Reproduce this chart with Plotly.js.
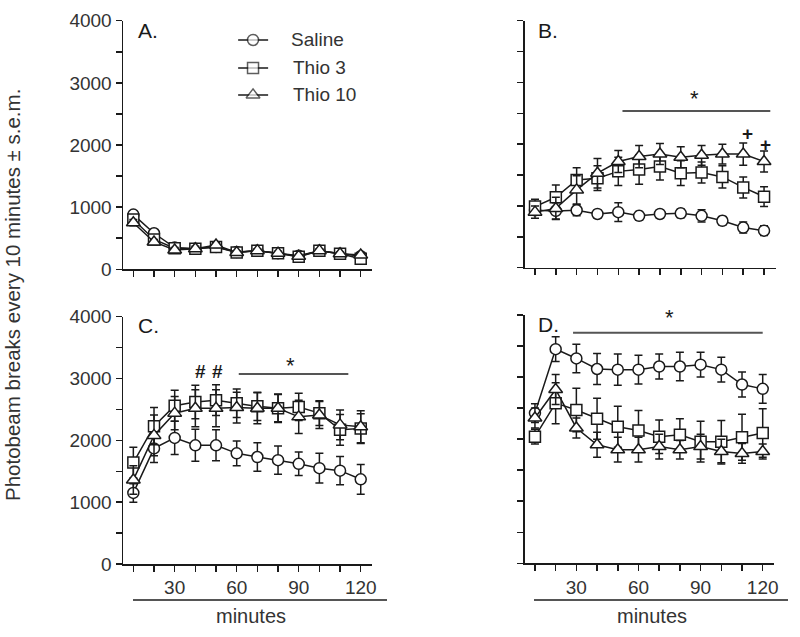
<!DOCTYPE html>
<html>
<head>
<meta charset="utf-8">
<script src="https://cdn.plot.ly/plotly-3.0.1.min.js"></script>
<style>html,body{margin:0;padding:0;background:#fff;}#chart{width:800px;height:637px;}</style>
</head>
<body>
<div id="chart"></div>
<script>
// ---------- data ----------
const minutes = [10, 20, 30, 40, 50, 60, 70, 80, 90, 100, 110, 120];
const seriesNames = ["Saline", "Thio 3", "Thio 10"];
const xTickVals = [10, 20, 30, 40, 50, 60, 70, 80, 90, 100, 110, 120];
const xTickText = ["", "", "30", "", "", "60", "", "", "90", "", "", "120"];
const yTickVals = [0, 500, 1000, 1500, 2000, 2500, 3000, 3500, 4000];
const yTickText = ["0", "", "1000", "", "2000", "", "3000", "", "4000"];

// Panel A
const A_saline = [880, 580, 350, 330, 360, 280, 300, 260, 220, 300, 250, 210];
const A_thio3  = [800, 480, 340, 330, 360, 270, 300, 260, 200, 300, 250, 170];
const A_thio10 = [750, 440, 310, 330, 390, 270, 300, 260, 210, 300, 250, 230];
const A_saline_err = [50, 50, 40, 40, 40, 30, 30, 30, 30, 30, 30, 30];
const A_thio3_err  = [50, 40, 40, 40, 40, 30, 30, 30, 30, 30, 30, 30];
const A_thio10_err = [50, 40, 40, 40, 40, 30, 30, 30, 30, 30, 30, 30];

// Panel B
const B_saline = [930, 920, 930, 870, 900, 840, 870, 880, 840, 760, 650, 600];
const B_thio3  = [990, 1140, 1420, 1450, 1560, 1590, 1640, 1530, 1540, 1470, 1300, 1150];
const B_thio10 = [900, 960, 1260, 1530, 1720, 1800, 1840, 1790, 1820, 1840, 1840, 1720];
const B_saline_err = [80, 130, 90, 60, 150, 70, 70, 70, 100, 70, 90, 80];
const B_thio3_err  = [120, 200, 200, 200, 230, 240, 220, 200, 170, 180, 170, 160];
const B_thio10_err = [100, 180, 230, 240, 180, 180, 170, 170, 160, 160, 180, 170];

// Panel C
const C_saline = [1150, 1870, 2040, 1920, 1920, 1790, 1730, 1680, 1620, 1550, 1510, 1370];
const C_thio3  = [1640, 2230, 2560, 2620, 2650, 2600, 2550, 2520, 2540, 2440, 2170, 2190];
const C_thio10 = [1360, 2080, 2440, 2520, 2520, 2530, 2520, 2520, 2380, 2410, 2250, 2220];
const C_saline_err = [150, 230, 270, 260, 250, 200, 230, 230, 190, 240, 230, 240];
const C_thio3_err  = [250, 300, 250, 270, 250, 230, 230, 220, 220, 200, 250, 240];
const C_thio10_err = [230, 330, 270, 300, 300, 250, 250, 230, 270, 220, 240, 260];

// Panel D
const D_saline = [2420, 3450, 3300, 3130, 3120, 3120, 3170, 3170, 3200, 3120, 2880, 2810];
const D_thio3  = [2040, 2580, 2470, 2330, 2200, 2140, 2040, 2070, 1960, 1960, 2030, 2100];
const D_thio10 = [2340, 2800, 2180, 1910, 1830, 1830, 1880, 1830, 1880, 1800, 1770, 1800];
const D_saline_err = [150, 200, 230, 250, 250, 230, 200, 230, 200, 200, 200, 230];
const D_thio3_err  = [120, 330, 350, 330, 330, 320, 270, 260, 330, 340, 370, 390];
const D_thio10_err = [160, 240, 160, 200, 200, 200, 200, 150, 200, 200, 160, 120];

// ---------- helpers ----------
const W = 800, H = 637;
const px = x => x / W;
const py = y => 1 - y / H;
const FONT = "Liberation Sans, Arial, sans-serif";
const INK = "#1a1a1a";
const TXT = "#333";
const symbols = ["circle", "square", "triangle-up"];

function series(xa, ya, vals, errs, i) {
  return {
    type: "scatter", mode: "lines+markers",
    x: minutes, y: vals, xaxis: xa, yaxis: ya,
    name: seriesNames[i], showlegend: false,
    line: {color: INK, width: 1.5},
    marker: {symbol: symbols[i], size: i === 2 ? 12 : 11, color: "#fff", line: {color: INK, width: 1.5}},
    error_y: {type: "data", array: errs, visible: true, color: INK, thickness: 1.5, width: 4},
    cliponaxis: false
  };
}

const panels = [
  ["x", "y", [A_saline, A_thio3, A_thio10], [A_saline_err, A_thio3_err, A_thio10_err]],
  ["x2", "y2", [B_saline, B_thio3, B_thio10], [B_saline_err, B_thio3_err, B_thio10_err]],
  ["x3", "y3", [C_saline, C_thio3, C_thio10], [C_saline_err, C_thio3_err, C_thio10_err]],
  ["x4", "y4", [D_saline, D_thio3, D_thio10], [D_saline_err, D_thio3_err, D_thio10_err]]
];

const traces = [];
panels.forEach(p => {
  for (let i = 0; i < 3; i++) traces.push(series(p[0], p[1], p[2][i], p[3][i], i));
});

// manual legend in panel A (positions in panel A data units)
const legY = [3690, 3240, 2806];
const legX = [60.7, 67.9, 75.2];
for (let i = 0; i < 3; i++) {
  traces.push({
    type: "scatter", mode: "lines+markers", xaxis: "x", yaxis: "y",
    x: legX, y: [legY[i], legY[i], legY[i]], showlegend: false, hoverinfo: "skip",
    line: {color: INK, width: 1.5},
    marker: {symbol: symbols[i], size: [0, i === 2 ? 12 : 11, 0], color: "#fff", line: {color: INK, width: [0, 1.5, 0]}},
    cliponaxis: false
  });
}

function xaxis(l, r, labels) {
  return {
    domain: [px(l), px(r)], range: [5, 125.5],
    showline: true, linecolor: INK, linewidth: 1.5, showgrid: false, zeroline: false,
    ticks: "outside", ticklen: 6, tickwidth: 1.5, tickcolor: INK,
    tickmode: "array", tickvals: xTickVals, ticktext: labels ? xTickText : xTickVals.map(() => ""),
    tickfont: {family: FONT, size: 19, color: TXT}, fixedrange: true
  };
}
function yaxis(top, bottom, labels) {
  return {
    domain: [py(bottom), py(top)], range: [0, 4000],
    showline: true, linecolor: INK, linewidth: 1.5, showgrid: false, zeroline: false,
    ticks: "outside", ticklen: 6, tickwidth: 1.5, tickcolor: INK,
    tickmode: "array", tickvals: yTickVals, ticktext: labels ? yTickText : yTickVals.map(() => ""),
    tickfont: {family: FONT, size: 19, color: TXT}, fixedrange: true
  };
}

const layout = {
  width: W, height: H,
  margin: {l: 0, r: 0, t: 0, b: 0},
  paper_bgcolor: "#fff", plot_bgcolor: "rgba(0,0,0,0)",
  showlegend: false,
  font: {family: FONT, color: INK},
  xaxis:  Object.assign(xaxis(123.0, 372.1, false), {anchor: "y"}),
  yaxis:  Object.assign(yaxis(20.7, 269.3, true), {anchor: "x"}),
  xaxis2: Object.assign(xaxis(524.6, 775.5, false), {anchor: "y2"}),
  yaxis2: Object.assign(yaxis(20.7, 267.7, false), {anchor: "x2"}),
  xaxis3: Object.assign(xaxis(123.0, 372.1, true), {anchor: "y3"}),
  yaxis3: Object.assign(yaxis(316.7, 564.0, true), {anchor: "x3"}),
  xaxis4: Object.assign(xaxis(524.6, 774.1, true), {anchor: "y4"}),
  yaxis4: Object.assign(yaxis(315.0, 563.3, false), {anchor: "x4"}),
  shapes: [
    // "minutes" underlines
    {type: "line", xref: "paper", yref: "paper", x0: px(133), x1: px(387), y0: py(600), y1: py(600), line: {color: "#555", width: 2}},
    {type: "line", xref: "paper", yref: "paper", x0: px(534), x1: px(788), y0: py(600), y1: py(600), line: {color: "#555", width: 2}},
    // significance bars
    {type: "line", xref: "x2", yref: "y2", x0: 52, x1: 123, y0: 2538, y1: 2538, line: {color: "#555", width: 2}},
    {type: "line", xref: "x3", yref: "y3", x0: 61, x1: 114, y0: 3074, y1: 3074, line: {color: "#555", width: 2}},
    {type: "line", xref: "x4", yref: "y4", x0: 28.4, x1: 120, y0: 3715, y1: 3715, line: {color: "#555", width: 2}}
  ],
  annotations: [
    // panel letters
    {xref: "paper", yref: "paper", x: px(136), y: py(31), xanchor: "left", yanchor: "middle", text: "A.", showarrow: false, font: {size: 21, color: INK}},
    {xref: "paper", yref: "paper", x: px(536), y: py(31), xanchor: "left", yanchor: "middle", text: "B.", showarrow: false, font: {size: 21, color: INK}},
    {xref: "paper", yref: "paper", x: px(136), y: py(325), xanchor: "left", yanchor: "middle", text: "C.", showarrow: false, font: {size: 21, color: INK}},
    {xref: "paper", yref: "paper", x: px(536), y: py(324), xanchor: "left", yanchor: "middle", text: "D.", showarrow: false, font: {size: 21, color: INK}},
    // legend labels
    {xref: "x", yref: "y", x: 85.3, y: legY[0], xanchor: "left", yanchor: "middle", text: seriesNames[0], showarrow: false, font: {size: 19, color: TXT}},
    {xref: "x", yref: "y", x: 86.5, y: legY[1], xanchor: "left", yanchor: "middle", text: seriesNames[1], showarrow: false, font: {size: 19, color: TXT}},
    {xref: "x", yref: "y", x: 86.5, y: legY[2], xanchor: "left", yanchor: "middle", text: seriesNames[2], showarrow: false, font: {size: 19, color: TXT}},
    // y title
    {xref: "paper", yref: "paper", x: px(12), y: py(295), xanchor: "center", yanchor: "middle", textangle: -90,
     text: "Photobeam breaks every 10 minutes \u00b1 s.e.m.", showarrow: false, font: {size: 20.5, color: TXT}},
    // x titles
    {xref: "paper", yref: "paper", x: px(251), y: py(616), xanchor: "center", yanchor: "middle", text: "minutes", showarrow: false, font: {size: 20, color: TXT}},
    {xref: "paper", yref: "paper", x: px(652), y: py(616), xanchor: "center", yanchor: "middle", text: "minutes", showarrow: false, font: {size: 20, color: TXT}},
    // significance markers
    {xref: "x2", yref: "y2", x: 86.4, y: 2740, text: "*", showarrow: false, font: {size: 22, color: INK}},
    {xref: "x2", yref: "y2", x: 112, y: 2181, text: "<b>+</b>", showarrow: false, font: {size: 19, color: INK}},
    {xref: "x2", yref: "y2", x: 120.6, y: 2003, text: "<b>+</b>", showarrow: false, font: {size: 19, color: INK}},
    {xref: "x3", yref: "y3", x: 42.3, y: 3107, text: "<b>#</b>", showarrow: false, font: {size: 19, color: INK}},
    {xref: "x3", yref: "y3", x: 50.5, y: 3107, text: "<b>#</b>", showarrow: false, font: {size: 19, color: INK}},
    {xref: "x3", yref: "y3", x: 85.8, y: 3217, text: "*", showarrow: false, font: {size: 22, color: INK}},
    {xref: "paper", yref: "paper", x: px(669), y: py(318), xanchor: "center", yanchor: "middle", text: "*", showarrow: false, font: {size: 22, color: INK}}
  ]
};

Plotly.newPlot("chart", traces, layout, {staticPlot: true, displayModeBar: false});
</script>
</body>
</html>
